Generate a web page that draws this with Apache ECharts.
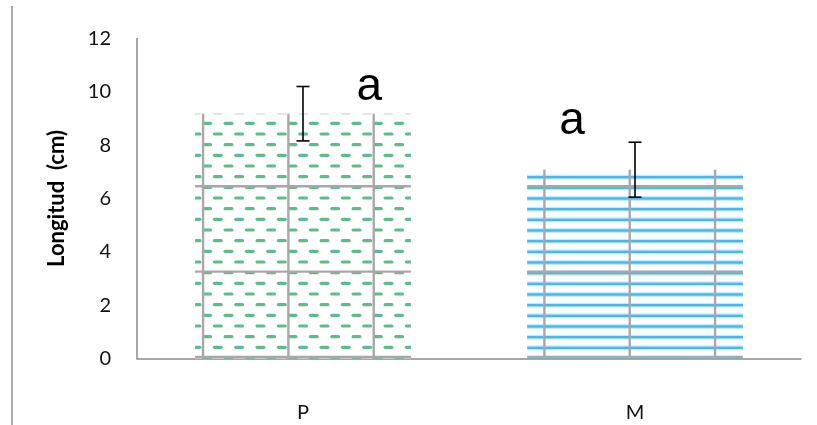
<!DOCTYPE html>
<html>
<head>
<meta charset="utf-8">
<script src="https://cdn.jsdelivr.net/npm/echarts@6/dist/echarts.min.js"></script>
<style>
  html, body { margin: 0; padding: 0; background: #fff; }
  #chart { width: 817px; height: 425px; }
</style>
</head>
<body>
<div id="chart"></div>
<script>
// Plant length by treatment, mean ± error
const categories = ['P', 'M'];
const means = [9.18, 7.08];
const errors = [1.02, 1.03];
// Significance letters, placed in axis units (dx in band widths)
const letters = ['a', 'a'];
const letterY = [10.17, 8.88];
const letterDX = [0.2, -0.19];
const yTickLabels = ['0', '2', '4', '6', '8', '10', '12'];

// Fill tiles: 256 px = 3 grid cells of ~85.3 px, with 8×8-style sub-patterns
const TILE = 256;
const CELL = TILE / 3;
const SUB = CELL / 8;

function makeTile(drawPattern) {
  const c = document.createElement('canvas');
  c.width = TILE; c.height = TILE;
  const ctx = c.getContext('2d');
  ctx.fillStyle = '#ffffff';
  ctx.fillRect(0, 0, TILE, TILE);
  drawPattern(ctx);
  // light grey grid overlay
  ctx.strokeStyle = '#a8a8a8';
  ctx.lineWidth = 2.4;
  for (let k = 0; k < 3; k++) {
    const gx = 32.4 + k * CELL;
    const gy = 15.6 + k * CELL;
    ctx.beginPath(); ctx.moveTo(gx, 0); ctx.lineTo(gx, TILE); ctx.stroke();
    ctx.beginPath(); ctx.moveTo(0, gy); ctx.lineTo(TILE, gy); ctx.stroke();
  }
  return c;
}

const dashTile = makeTile(function (ctx) {
  ctx.strokeStyle = '#5dbd8a';
  ctx.lineWidth = 3.2;
  ctx.lineCap = 'round';
  for (let r = 0; r < 24; r++) {
    const y = 6 + r * SUB;
    const x0 = (r % 2 === 0) ? 4.5 : 4.5 + SUB;
    for (let j = -1; j < 13; j++) {
      const cx = x0 + j * 2 * SUB;
      ctx.beginPath();
      ctx.moveTo(cx - 3.4, y);
      ctx.lineTo(cx + 3.4, y);
      ctx.stroke();
    }
  }
});

const stripeTile = makeTile(function (ctx) {
  for (let r = 0; r < 24; r++) {
    const y = 6.5 + r * SUB;
    ctx.fillStyle = '#c6eafb';
    ctx.fillRect(0, y - 2.5, TILE, 5);
    ctx.fillStyle = '#45b8ee';
    ctx.fillRect(0, y - 1.2, TILE, 2.4);
  }
});

const fills = [
  { image: dashTile, repeat: 'repeat' },
  { image: stripeTile, repeat: 'repeat' }
];

const chart = echarts.init(document.getElementById('chart'), null, { renderer: 'canvas' });

chart.setOption({
  animation: false,
  backgroundColor: '#ffffff',
  grid: { left: 137, right: 16, top: 38.5, bottom: 66.5 },
  graphic: [{
    type: 'line',
    shape: { x1: 12, y1: 6, x2: 12, y2: 425 },
    style: { stroke: '#8c8c8c', lineWidth: 1.5 }
  }],
  xAxis: {
    type: 'category',
    data: categories,
    axisLine: { lineStyle: { color: '#8a8a8a', width: 1.5 } },
    axisTick: { show: false },
    axisLabel: { color: '#111', fontFamily: 'Lato', fontSize: 20, margin: 44 }
  },
  yAxis: {
    type: 'value',
    min: 0, max: 12, interval: 2,
    name: 'Longitud  (cm)',
    nameLocation: 'middle',
    nameGap: 69,
    nameTextStyle: { color: '#000', fontFamily: 'Lato', fontWeight: 'bold', fontSize: 22 },
    axisLine: { show: true, lineStyle: { color: '#8a8a8a', width: 1.5 } },
    axisTick: { show: false },
    splitLine: { show: false },
    axisLabel: {
      color: '#111', fontFamily: 'Lato', fontSize: 20, margin: 26,
      formatter: function (v) { return yTickLabels[Math.round(v / 2)]; }
    }
  },
  series: [
    {
      type: 'bar',
      data: means.map(function (v, i) { return { value: v, itemStyle: { color: fills[i] } }; }),
      barCategoryGap: '35%'
    },
    {
      type: 'custom',
      data: categories.map(function (c, i) { return [i, means[i], errors[i]]; }),
      renderItem: function (params, api) {
        const i = api.value(0), m = api.value(1), e = api.value(2);
        const top = api.coord([i, m + e]);
        const bot = api.coord([i, m - e]);
        const half = 6.5;
        const st = { stroke: '#000', lineWidth: 1.6 };
        return {
          type: 'group',
          children: [
            { type: 'line', shape: { x1: top[0], y1: top[1], x2: bot[0], y2: bot[1] }, style: st },
            { type: 'line', shape: { x1: top[0] - half, y1: top[1], x2: top[0] + half, y2: top[1] }, style: st },
            { type: 'line', shape: { x1: bot[0] - half, y1: bot[1], x2: bot[0] + half, y2: bot[1] }, style: st }
          ]
        };
      },
      z: 5
    },
    {
      type: 'custom',
      data: categories.map(function (c, i) { return [i, letterY[i]]; }),
      renderItem: function (params, api) {
        const i = api.value(0);
        const band = api.size([1, 0])[0];
        const p = api.coord([i, api.value(1)]);
        return {
          type: 'text',
          x: p[0] + letterDX[i] * band,
          y: p[1],
          style: {
            text: letters[i],
            fontFamily: 'Liberation Sans',
            fontSize: 46,
            fill: '#000',
            align: 'center',
            verticalAlign: 'middle'
          }
        };
      },
      z: 6
    }
  ]
});
</script>
</body>
</html>
